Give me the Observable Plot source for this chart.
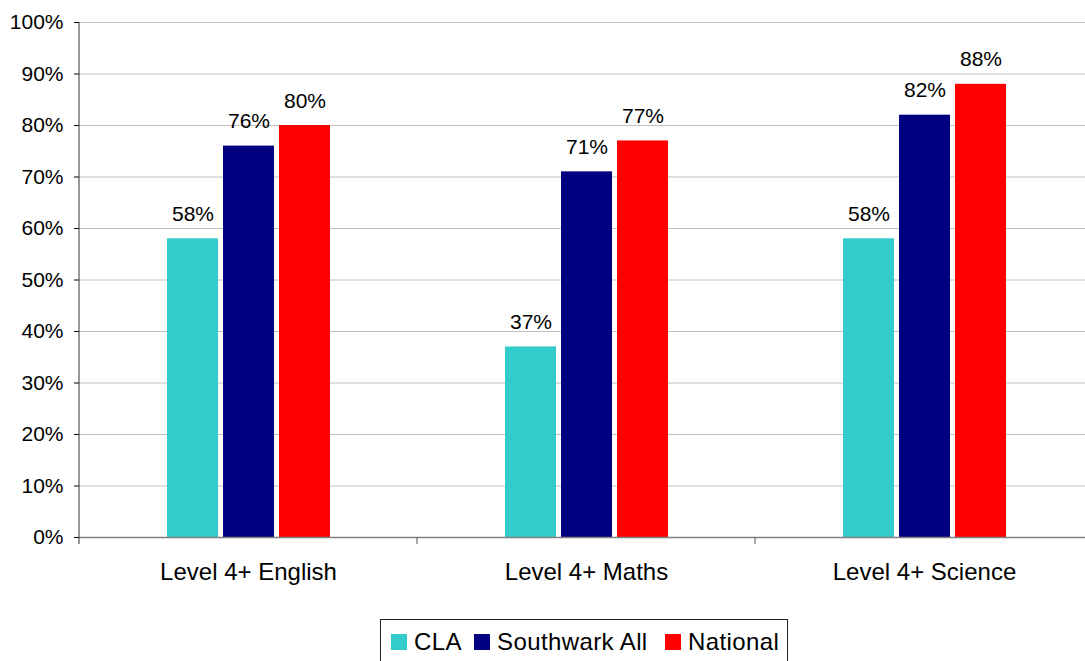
<!DOCTYPE html>
<html>
<head>
<meta charset="utf-8">
<script src="https://cdn.jsdelivr.net/npm/d3@7"></script>
<script src="https://cdn.jsdelivr.net/npm/@observablehq/plot@0.6"></script>
<style>
  html, body { margin: 0; padding: 0; background: #fff; overflow: hidden; }
  body { font-family: "Liberation Sans", Arial, sans-serif; position: relative; width: 1085px; height: 661px; }
  #chart { position: absolute; left: 0; top: 0; }
  #legend { position: absolute; left: 380px; top: 619px; width: 408px; height: 50px; border: 1px solid #222; box-sizing: border-box; }
  .item { position: absolute; top: 8px; display: flex; align-items: center; font-size: 24px; letter-spacing: 0.4px; color: #000; }
  .sw { width: 16px; height: 16px; margin-right: 7px; }
</style>
</head>
<body>
<div id="chart"></div>
<div id="legend"></div>
<script>
const groups = ["Level 4+ English", "Level 4+ Maths", "Level 4+ Science"];
const series = ["CLA", "Southwark All", "National"];
const colors = ["#33CCCC", "#000080", "#FF0000"];
const cla = [58, 37, 58];
const southwark = [76, 71, 82];
const national = [80, 77, 88];
const yTicks = [0, 10, 20, 30, 40, 50, 60, 70, 80, 90, 100];

const valuesBySeries = [cla, southwark, national];
const data = [];
groups.forEach((g, gi) => {
  series.forEach((s, si) => {
    data.push({group: g, series: s, value: valuesBySeries[si][gi]});
  });
});

const W = 1093, H = 600;
const chart = Plot.plot({
  width: W,
  height: H,
  marginLeft: 78,
  marginRight: 0,
  marginTop: 22,
  marginBottom: H - 537,
  style: {fontFamily: "Liberation Sans, Arial, sans-serif", background: "#fff", overflow: "visible", maxWidth: "none"},
  fx: {domain: groups, padding: 0, label: null},
  x: {domain: series, paddingInner: 0.09, paddingOuter: 1.56, axis: null},
  y: {domain: [0, 100], label: null},
  color: {domain: series, range: colors},
  marks: [
    Plot.gridY(yTicks, {stroke: "#c0c0c0", strokeOpacity: 1, strokeWidth: 1}),
    Plot.axisY(yTicks, {tickSize: 5, tickPadding: 11, fontSize: 21, tickFormat: d => d + "%", stroke: "#000", label: null}),
    Plot.axisFx({anchor: "bottom", tickSize: 0, tickPadding: 25, fontSize: 24, letterSpacing: 0.4, label: null}),
    Plot.barY(data, {fx: "group", x: "series", y: "value", fill: "series"}),
    Plot.ruleY([0], {stroke: "#808080", strokeWidth: 1.5}),
    Plot.text(data, {fx: "group", x: "series", y: "value", text: d => d.value + "%", dy: -18, lineAnchor: "bottom", fontSize: 21, fill: "#000"})
  ]
});
document.getElementById("chart").appendChild(chart);

// axis line and group-boundary ticks from the library's scales
const svg = d3.select(chart);
const ys = chart.scale("y");
const fxs = chart.scale("fx");
const y0 = ys.apply(0), y1 = ys.apply(100);
const left = fxs.apply(groups[0]);
svg.append("line").attr("x1", left).attr("x2", left).attr("y1", y1).attr("y2", y0 + 7)
  .attr("stroke", "#333").attr("stroke-width", 1);
const bounds = groups.map(g => fxs.apply(g) + fxs.bandwidth);
bounds.forEach(bx => {
  svg.append("line").attr("x1", bx).attr("x2", bx).attr("y1", y0).attr("y2", y0 + 7)
    .attr("stroke", "#555").attr("stroke-width", 1);
});

// legend
const legendX = [10, 93, 284];
const legend = document.getElementById("legend");
series.forEach((s, i) => {
  const it = document.createElement("div");
  it.className = "item";
  it.style.left = legendX[i] + "px";
  it.innerHTML = `<span class="sw" style="background:${colors[i]}"></span><span>${s}</span>`;
  legend.appendChild(it);
});
</script>
</body>
</html>
